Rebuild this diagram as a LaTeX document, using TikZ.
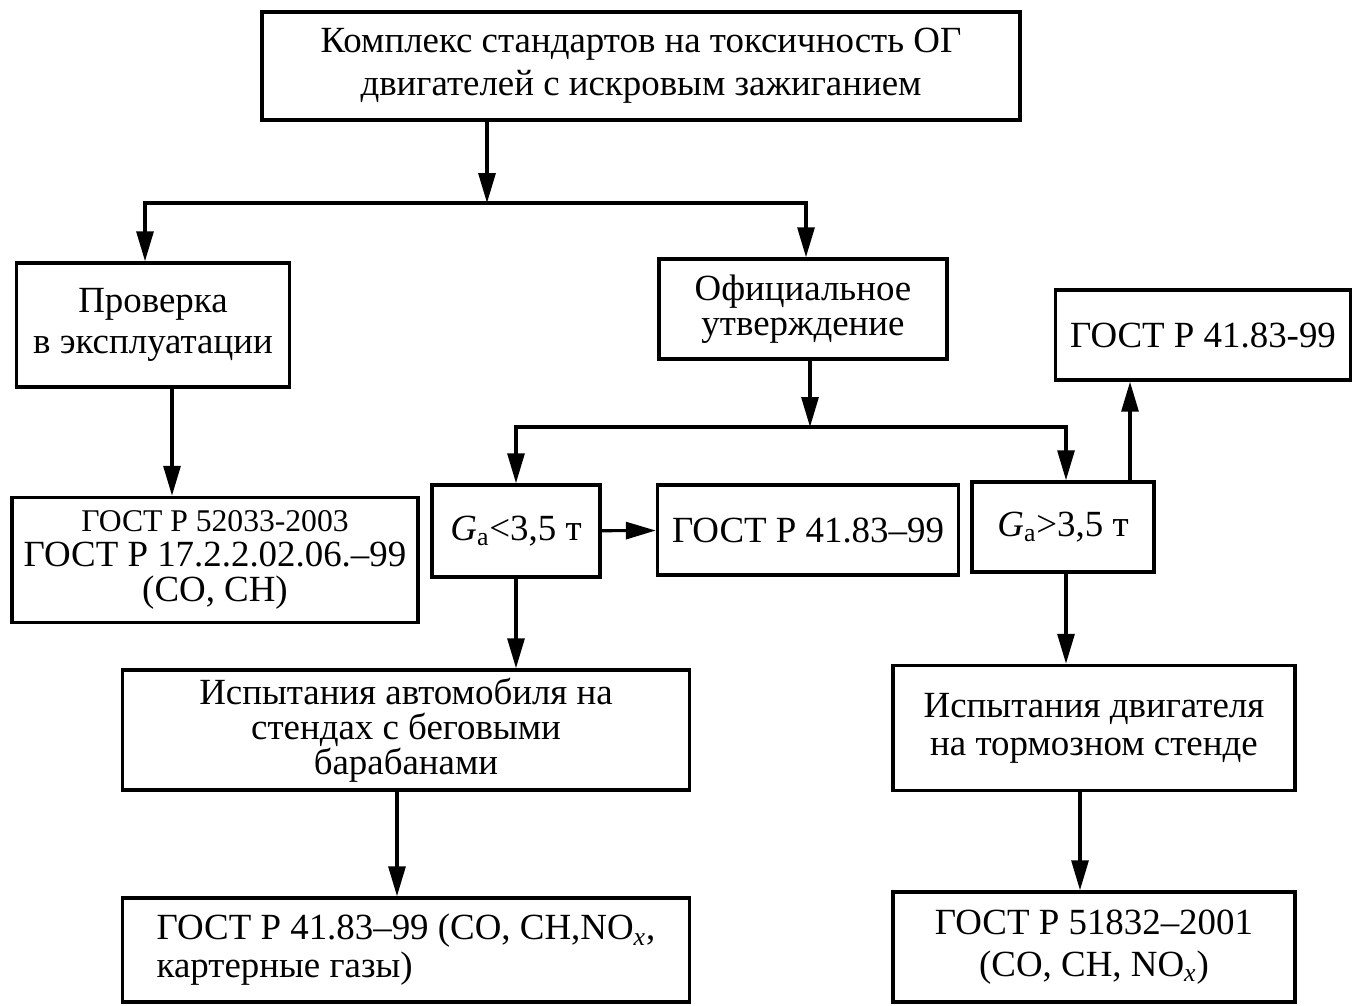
\documentclass[tikz,border=0pt]{standalone}
\usepackage{fontspec}
\setmainfont{Liberation Serif}
\usetikzlibrary{arrows.meta}

\begin{document}
\begin{tikzpicture}[x=0.02cm, y=-0.02cm,
 box/.style={draw, line width=2pt, align=center, inner sep=0pt, font=\fontsize{21}{23}\selectfont},
 arr/.style={line width=1.8pt, -{Triangle[length=0.6cm,width=0.34cm]}}]

\useasboundingbox (0,0) rectangle (1356,1006);

\node [box, minimum width=15.16cm, minimum height=2.16cm, font=\fontsize{21}{24.5}\selectfont] (top) at (641,66) {Комплекс стандартов на токсичность ОГ\\двигателей с искровым зажиганием};

\node [box, minimum width=5.46cm, minimum height=2.48cm] (prov) at (153,325) {Проверка\\в эксплуатации};
\node [box, minimum width=8.12cm, minimum height=2.5cm, font=\fontsize{21}{20}\selectfont] (gost52) at (215,560) {{\fontsize{18}{20}\selectfont ГОСТ Р 52033-2003}\\ГОСТ Р 17.2.2.02.06.–99\\(CO, CH)};

\node [box, minimum width=5.76cm, minimum height=2cm, font=\fontsize{21}{20}\selectfont] (ofic) at (803,309) {Официальное\\утверждение};
\node [box, minimum width=5.9cm, minimum height=1.8cm] (gtr) at (1203,335) {ГОСТ Р 41.83-99};

\node [box, minimum width=3.36cm, minimum height=1.84cm] (gl) at (516,531) {\textit{G}\textsubscript{а}<3,5 т};
\node [box, minimum width=6.02cm, minimum height=1.8cm] (gmid) at (808,530) {ГОСТ Р 41.83–99};
\node [box, minimum width=3.64cm, minimum height=1.8cm] (gg) at (1063,527) {\textit{G}\textsubscript{а}>3,5 т};

\node [box, minimum width=11.34cm, minimum height=2.4cm, font=\fontsize{21}{20}\selectfont] (ispa) at (406,730) {Испытания автомобиля на\\стендах с беговыми\\барабанами};
\node [box, minimum width=11.34cm, minimum height=2.08cm, align=left, font=\fontsize{21}{21.5}\selectfont] (gost41) at (406,950) {ГОСТ Р 41.83–99 (CO, CH,NO\textsubscript{\textit{x}},\\картерные газы)};

\node [box, minimum width=8.04cm, minimum height=2.5cm, font=\fontsize{21}{21.5}\selectfont] (ispd) at (1094,728) {Испытания двигателя\\на тормозном стенде};
\node [box, minimum width=8.04cm, minimum height=2.2cm, font=\fontsize{21}{24}\selectfont] (gost51) at (1094,947) {ГОСТ Р 51832–2001\\(CO, CH, NO\textsubscript{\textit{x}})};

\coordinate (t1) at (487,203);
\coordinate (t2) at (810,427);
\coordinate (xa) at (145,0);
\coordinate (xb) at (806,0);
\coordinate (xc) at (172,0);
\coordinate (xd) at (1066,0);
\coordinate (xe) at (1130,0);
\coordinate (xf) at (397,0);
\coordinate (xg) at (1080,0);
\coordinate (xh) at (516,0);

\draw [arr] (top.south -| t1) -- (t1);
\draw [arr] (t1) -| (prov.north -| xa);
\draw [arr] (t1) -| (ofic.north -| xb);
\draw [arr] (prov.south -| xc) -- (gost52.north -| xc);
\draw [arr] (ofic.south -| t2) -- (t2);
\draw [arr] (t2) -| (gl.north -| xh);
\draw [arr] (t2) -| (gg.north -| xd);
\draw [arr] (gg.north -| xe) -- (gtr.south -| xe);
\draw [arr] (gl) -- (gmid);
\draw [arr] (gl.south -| xh) -- (ispa.north -| xh);
\draw [arr] (ispa.south -| xf) -- (gost41.north -| xf);
\draw [arr] (gg.south -| xd) -- (ispd.north -| xd);
\draw [arr] (ispd.south -| xg) -- (gost51.north -| xg);

\end{tikzpicture}
\end{document}
